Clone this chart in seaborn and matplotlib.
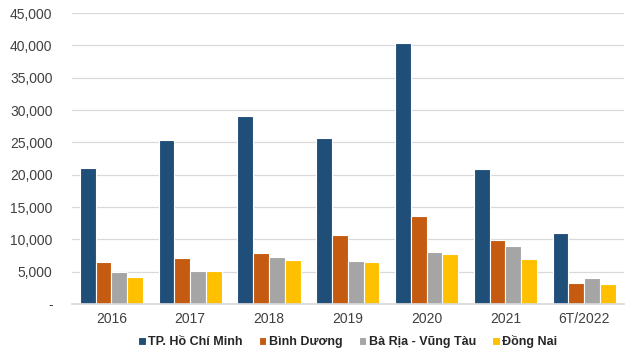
import matplotlib
matplotlib.use("Agg")
import matplotlib.pyplot as plt
import seaborn as sns
import pandas as pd
from matplotlib.ticker import FuncFormatter

years = ["2016", "2017", "2018", "2019", "2020", "2021", "6T/2022"]
series_names = ["TP. Hồ Chí Minh", "Bình Dương", "Bà Rịa - Vũng Tàu", "Đồng Nai"]
hcm = [21100, 25400, 29100, 25700, 40400, 20900, 11000]
binh_duong = [6500, 7100, 7900, 10700, 13600, 9900, 3250]
brvt = [4950, 5100, 7300, 6600, 8000, 8900, 4000]
dong_nai = [4200, 5100, 6800, 6500, 7700, 7000, 3100]
colors = ["#1F4E79", "#C55A11", "#A5A5A5", "#FFC000"]

rows = []
for name, vals in zip(series_names, [hcm, binh_duong, brvt, dong_nai]):
    for y, v in zip(years, vals):
        rows.append({"year": y, "series": name, "value": v})
df = pd.DataFrame(rows)

sns.set_theme(style="white")
plt.rcParams['font.family'] = ['Liberation Sans', 'DejaVu Sans']

fig = plt.figure(figsize=(6.34, 3.54), dpi=100)
ax = fig.add_axes([0.1136, 0.1412, 0.870, 0.8218])
sns.barplot(data=df, x="year", y="value", hue="series", order=years,
            hue_order=series_names, palette=colors, width=0.8, saturation=1,
            edgecolor="white", linewidth=0.8, ax=ax, legend=True)

ax.set_ylim(0, 45000)
ax.set_yticks(range(0, 45001, 5000))
ax.yaxis.set_major_formatter(FuncFormatter(lambda v, p: "-" if v == 0 else f"{int(v):,}"))
ax.grid(axis="y", color="#D9D9D9", linewidth=0.9)
ax.set_axisbelow(True)
for s in ["top", "right", "left"]:
    ax.spines[s].set_visible(False)
ax.spines["bottom"].set_color("#D9D9D9")
ax.set_xlabel("")
ax.set_ylabel("")
ax.tick_params(axis="both", length=0, labelsize=10, colors="#404040", pad=6)
ax.tick_params(axis="y", pad=14)

handles, labels = ax.get_legend_handles_labels()
ax.legend(handles, labels, loc="center", bbox_to_anchor=(0.5, -0.13), ncol=4,
          frameon=False, handlelength=0.6, handleheight=0.6, handletextpad=0.2,
          columnspacing=1.3, prop={"weight": "bold", "size": 9})
for t in ax.get_legend().get_texts():
    t.set_color("#262626")

fig.savefig("out.png", dpi=100)
